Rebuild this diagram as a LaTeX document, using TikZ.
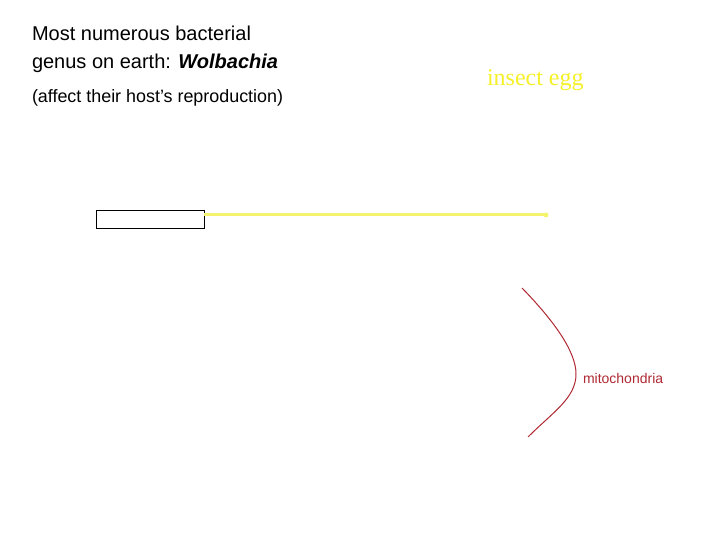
\documentclass[tikz,border=0pt]{standalone}
\usepackage{fontspec}
\setmainfont{Liberation Sans}
\newfontfamily\timesfont{Liberation Serif}
\definecolor{eggyellow}{RGB}{245,240,40}
\definecolor{lineyellow}{RGB}{245,242,110}
\definecolor{mitored}{RGB}{175,40,50}
\begin{document}
\begin{tikzpicture}[x=1pt,y=-1pt,
  txt/.style={anchor=base west,inner sep=0pt,outer sep=0pt},
  boxstyle/.style={draw=black,line width=1pt,minimum width=108pt,minimum height=18pt,inner sep=0pt,anchor=north west}]
\useasboundingbox (0,0) rectangle (720,540);
\node[txt,font=\fontsize{20}{24}\selectfont] (t1) at (32,41) {Most numerous bacterial};
\node[txt,font=\fontsize{20}{24}\selectfont] (t2) at (32,69) {genus on earth: \textbf{\textit{Wolbachia}}};
\node[txt,font=\fontsize{17.9}{21}\selectfont] (t3) at (32,103) {(affect their host’s reproduction)};
\node[txt,font=\timesfont\fontsize{24}{28}\selectfont,text=eggyellow] (egg) at (487,86) {insect egg};
\node[boxstyle] (box) at (96,210) {};
\coordinate (ys) at (204,215);
\coordinate (ye) at (546,215);
\draw[lineyellow,line width=3pt] (ys) -- (ye);
\fill[lineyellow] (ye) circle (2.4pt);
\coordinate (ms) at (522,288);
\coordinate (mm) at (576,374);
\coordinate (me) at (528,437);
\draw[mitored,line width=1pt] (ms) .. controls (555,322) and (576,352) .. (mm) .. controls (576,398) and (553,412) .. (me);
\node[txt,font=\fontsize{14}{16}\selectfont,text=mitored] (mito) at (583,383) {mitochondria};
\end{tikzpicture}
\end{document}
